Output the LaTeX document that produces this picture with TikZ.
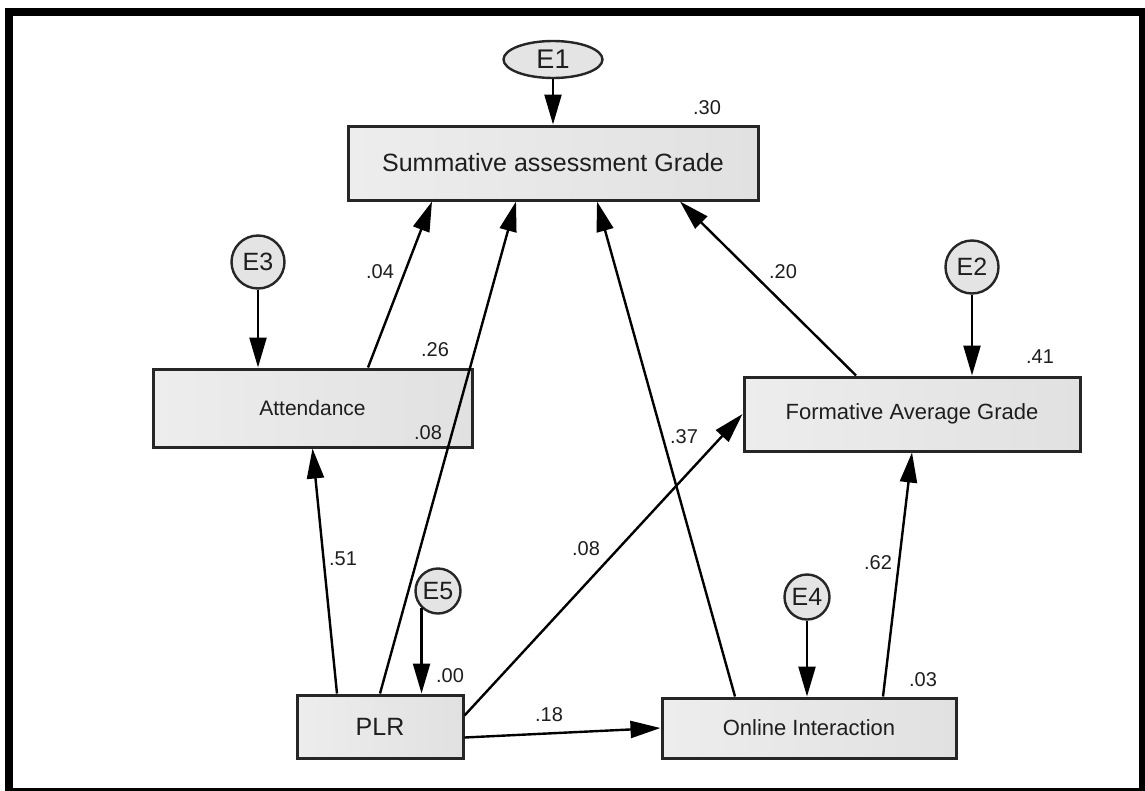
\documentclass[tikz,border=0pt]{standalone}
\usepackage{fontspec}
\setmainfont{Liberation Sans}
\usetikzlibrary{arrows.meta,shapes.geometric}
\definecolor{boxL}{RGB}{237,237,237}
\definecolor{boxR}{RGB}{225,225,225}
\definecolor{errfill}{RGB}{228,228,228}
\definecolor{ink}{RGB}{30,30,30}
\newcommand{\fs}[1]{\fontsize{#1}{#1}\selectfont}
\begin{document}
\begin{tikzpicture}[x=1pt,y=-1pt,
  var/.style={draw=black!85, line width=3pt, left color=boxL, right color=boxR,
    inner sep=0pt, align=center, text=ink},
  err/.style={draw=black!85, line width=2.4pt, fill=errfill, circle, inner sep=0pt,
    font=\fs{25}, text=ink},
  path/.style={draw=black, line width=2.4pt, -{Triangle[length=30pt,width=17pt]}},
  coef/.style={inner sep=0pt, font=\fs{20}, text=ink}
]
\useasboundingbox (0,0) rectangle (1145,790);
\clip (0,0) rectangle (1145,790);
\fill[white] (0,0) rectangle (1145,790);
% frame
\draw[line width=8pt] (9,12) rectangle (1143,792);

% observed variables
\node[var, minimum width=410pt, minimum height=74pt, font=\fs{25}] (sum) at (553,163) {Summative assessment Grade};
\node[var, minimum width=319pt, minimum height=78pt, font=\fs{21}] (att) at (312.5,408) {Attendance};
\node[var, minimum width=336pt, minimum height=74pt, font=\fs{22}] (form) at (912,414) {Formative Average Grade};
\node[var, minimum width=166pt, minimum height=63pt, font=\fs{25}] (plr) at (380,726.5) {PLR};
\node[var, minimum width=294pt, minimum height=60pt, font=\fs{22}] (oi) at (809,728) {Online Interaction};

% error terms
\node[err, ellipse, minimum width=99pt, minimum height=37pt, font=\fs{27}] (e1) at (553,59.5) {E1};
\node[err, minimum size=53pt] (e3) at (258,262) {E3};
\node[err, minimum size=53pt] (e2) at (972,267) {E2};
\node[err, minimum size=45pt] (e5) at (438,591) {E5};
\node[err, minimum size=45pt] (e4) at (807,597) {E4};

% error paths
\draw[path] (e1.south) -- (sum.north);
\draw[path] (e3.south) -- (e3 |- att.north);
\draw[path] (e2.south) -- (e2 |- form.north);
\draw[path] (e5.226) -- (e5.226 |- plr.north);
\draw[path] (e4.south) -- (e4 |- oi.north);

% structural paths
\draw[path] ([xshift=55.5pt]att.north) -- ([xshift=-121pt]sum.south);
\draw[path] (plr.north) -- ([xshift=-37pt]sum.south);
\draw[path] ([xshift=-74pt]oi.north) -- ([xshift=44pt]sum.south);
\draw[path] ([xshift=-56pt]form.north) -- ([xshift=127pt]sum.south);
\draw[path] ([xshift=-43pt]plr.north) -- (att.south);
\draw[path] ([yshift=11pt]plr.east) -- (form.west);
\draw[path] ([yshift=-11pt]plr.east) -- (oi.west);
\draw[path] ([xshift=74pt]oi.north) -- (form.south);

% squared multiple correlations
\node[coef] (r1) at (707,108) {.30};
\node[coef] (r3) at (435,350) {.26};
\node[coef] (r2) at (1040,357) {.41};
\node[coef] (r5) at (450,676) {.00};
\node[coef] (r4) at (923,680) {.03};

% path coefficients
\node[coef] (c1) at (380,272) {.04};
\node[coef] (c2) at (428,433) {.08};
\node[coef] (c3) at (783,272) {.20};
\node[coef] (c4) at (684,437) {.37};
\node[coef] (c5) at (343,559) {.51};
\node[coef] (c6) at (586,549) {.08};
\node[coef] (c7) at (878,563) {.62};
\node[coef] (c8) at (549,715) {.18};
\end{tikzpicture}
\end{document}
